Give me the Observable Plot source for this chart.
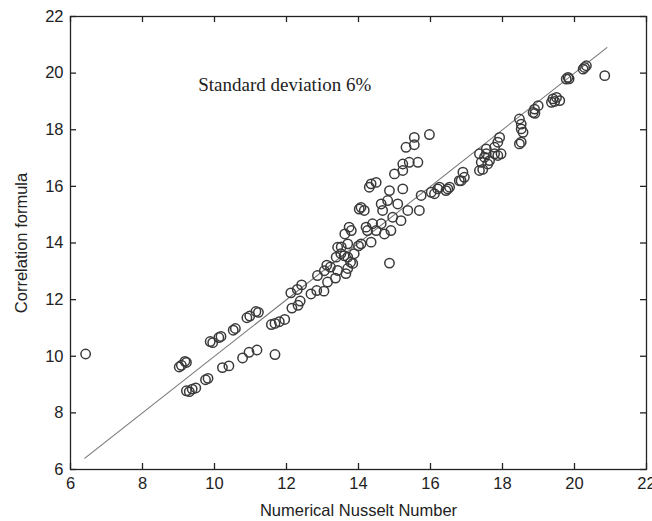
<!DOCTYPE html>
<html>
<head>
<meta charset="utf-8">
<script src="https://cdn.jsdelivr.net/npm/d3@7"></script>
<script src="https://cdn.jsdelivr.net/npm/@observablehq/plot@0.6"></script>
<style>
  html, body { margin: 0; padding: 0; background: #fff; }
  #chart svg { display: block; }
</style>
</head>
<body>
<div id="chart"></div>
<script>
// Numerical Nusselt number (x) vs. correlation formula (y)
const numerical = [
  6.42,
  9.02, 9.08, 9.18, 9.22,
  9.88, 9.95, 10.12, 10.18,
  10.52, 10.58,
  10.90, 10.98, 11.15, 11.22,
  9.22, 9.30, 9.38, 9.48,
  9.75, 9.82,
  10.22, 10.40,
  10.78, 10.96, 11.18,
  11.68,
  11.58, 11.68, 11.80, 11.95,
  12.15, 12.32, 12.38,
  12.12, 12.30, 12.42,
  12.68, 12.84, 13.04,
  12.86, 13.05, 13.22, 13.12,
  13.14, 13.36,
  13.42, 13.65, 13.84, 13.70,
  13.38, 13.60, 13.78, 13.70, 13.88, 13.51,
  13.42, 13.52, 13.70,
  13.62, 13.74, 13.80,
  14.07, 14.35, 14.00,
  14.25, 14.21, 14.39, 14.49, 14.63, 14.90, 14.72,
  14.07, 14.16, 14.02,
  14.63, 14.81, 15.09, 14.67,
  15.37, 15.18, 14.95,
  14.30, 14.35, 14.49,
  14.86, 15.23,
  15.00, 15.23,
  15.23, 15.41, 15.65,
  15.32, 15.55, 15.55,
  15.97,
  14.86,
  15.69, 15.74, 16.02, 16.25, 16.48, 16.20, 16.43, 16.11, 16.53,
  16.80, 16.90, 16.94, 16.85,
  17.36, 17.55, 17.41, 17.36, 17.64, 17.55, 17.50, 17.59, 17.45,
  17.87, 17.92, 17.78, 17.96, 17.78, 17.87,
  18.47, 18.52, 18.52, 18.57, 18.52, 18.47,
  18.85, 18.89, 18.99, 18.90,
  19.40, 19.50, 19.36, 19.59, 19.45,
  19.82, 19.77, 19.85,
  20.28, 20.33, 20.24,
  20.84
];
const correlation = [
  10.08,
  9.62, 9.68, 9.82, 9.78,
  10.52, 10.48, 10.66, 10.70,
  10.92, 10.98,
  11.36, 11.42, 11.58, 11.55,
  8.78, 8.75, 8.84, 8.88,
  9.17, 9.22,
  9.60, 9.66,
  9.94, 10.14, 10.22,
  10.06,
  11.12, 11.16, 11.22, 11.30,
  11.70, 11.80, 11.95,
  12.24, 12.36, 12.52,
  12.20, 12.32, 12.30,
  12.85, 13.02, 13.15, 13.22,
  12.62, 12.76,
  13.03, 12.92, 13.28, 13.10,
  13.50, 13.55, 13.32, 13.50, 13.62, 13.62,
  13.85, 13.86, 13.97,
  14.32, 14.56, 14.44,
  13.97, 14.03, 13.90,
  14.44, 14.56, 14.68, 14.44, 14.68, 14.44, 14.32,
  15.26, 15.15, 15.20,
  15.38, 15.50, 15.38, 15.15,
  15.15, 14.79, 14.91,
  15.97, 16.09, 16.14,
  15.85, 15.91,
  16.44, 16.56,
  16.79, 16.85, 16.85,
  17.38, 17.47, 17.73,
  17.83,
  13.29,
  15.15, 15.68, 15.79, 15.97, 15.91, 15.91, 15.85, 15.74, 15.97,
  16.20, 16.50, 16.32, 16.20,
  17.15, 17.32, 16.85, 16.56, 16.91, 17.15, 17.03, 16.79, 16.60,
  17.56, 17.73, 17.38, 17.15, 17.15, 17.09,
  18.38, 18.20, 18.03, 17.91, 17.56, 17.50,
  18.61, 18.73, 18.85, 18.58,
  19.09, 19.14, 18.97, 19.03, 19.00,
  19.85, 19.79, 19.80,
  20.20, 20.26, 20.14,
  19.91
];
// Reference line y = x
const lineX = [6.4, 20.9];
const lineY = [6.4, 20.9];

const xTicks = [6, 8, 10, 12, 14, 16, 18, 20, 22];
const yTicks = [6, 8, 10, 12, 14, 16, 18, 20, 22];
const xLabel = "Numerical Nusselt Number";
const yLabel = "Correlation formula";
const note = "Standard deviation 6%";
const noteX = 11.95;
const noteY = 19.58;

const points = numerical.map((x, i) => ({x, y: correlation[i]}));
const lineData = lineX.map((x, i) => ({x, y: lineY[i]}));

const W = 652, H = 521, mT = 16, mR = 6, mB = 52, mL = 70;
const plotW = W - mL - mR, plotH = H - mT - mB;
const tickLen = 6;
const axisColor = "#222";

const chart = Plot.plot({
  width: W,
  height: H,
  marginTop: mT,
  marginRight: mR,
  marginBottom: mB,
  marginLeft: mL,
  style: {fontFamily: "'Liberation Sans', Arial, sans-serif", fontSize: "16px", color: "#222", background: "#fff", overflow: "visible"},
  x: {domain: [6, 22], ticks: xTicks},
  y: {domain: [6, 22], ticks: yTicks},
  marks: [
    Plot.line(lineData, {x: "x", y: "y", stroke: "#777", strokeWidth: 1.1}),
    Plot.dot(points, {x: "x", y: "y", r: 4.7, stroke: "#3a3a3a", strokeWidth: 1.5, fill: "none"}),
    Plot.text([note], {x: [noteX], y: [noteY], text: d => d, fontFamily: "'Liberation Serif', 'Times New Roman', serif", fontSize: 19, fill: "#222"}),
    // inward ticks on all four sides
    Plot.tickX(xTicks, {x: d => d, insetTop: plotH - tickLen, stroke: axisColor, strokeWidth: 1.3}),
    Plot.tickX(xTicks, {x: d => d, insetBottom: plotH - tickLen, stroke: axisColor, strokeWidth: 1.3}),
    Plot.tickY(yTicks, {y: d => d, insetRight: plotW - tickLen, stroke: axisColor, strokeWidth: 1.3}),
    Plot.tickY(yTicks, {y: d => d, insetLeft: plotW - tickLen, stroke: axisColor, strokeWidth: 1.3}),
    Plot.axisX({anchor: "bottom", ticks: xTicks, tickSize: 0, tickPadding: 8, label: xLabel, labelAnchor: "center", labelArrow: "none", labelOffset: 46, fontSize: 16.5}),
    Plot.axisY({anchor: "left", ticks: yTicks, tickSize: 0, tickPadding: 7, label: yLabel, labelAnchor: "center", labelArrow: "none", labelOffset: 55, fontSize: 16.5}),
    Plot.frame({stroke: axisColor, strokeWidth: 1.3})
  ]
});
document.getElementById("chart").appendChild(chart);
</script>
</body>
</html>
